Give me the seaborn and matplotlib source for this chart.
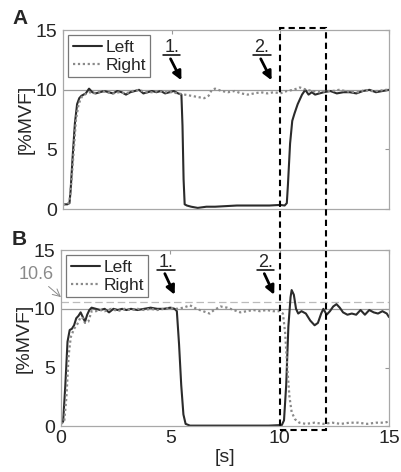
import matplotlib
matplotlib.use("Agg")
import matplotlib.pyplot as plt
import seaborn as sns
from matplotlib.patches import Rectangle

sns.set_style("white")
plt.rcParams["font.family"] = ["Liberation Sans", "DejaVu Sans"]

# (time [s], %MVF)
left_a = [(0, 0.4), (0.2, 0.4), (0.3, 0.5), (0.35, 1.5), (0.45, 4.5), (0.55, 7.2), (0.65, 8.8),
          (0.75, 9.3), (0.85, 9.5), (0.95, 9.6), (1.05, 9.7), (1.2, 10.1), (1.35, 9.8), (1.5, 9.7),
          (1.7, 9.8), (1.9, 9.9), (2.1, 9.8), (2.3, 9.7), (2.5, 9.9), (2.7, 9.8), (2.9, 9.6),
          (3.1, 9.8), (3.3, 9.9), (3.5, 10.0), (3.7, 9.7), (3.9, 9.8), (4.1, 9.9), (4.3, 9.8),
          (4.5, 9.9), (4.7, 9.7), (4.9, 9.8), (5.1, 9.9), (5.3, 9.7), (5.45, 9.6), (5.5, 7.0),
          (5.55, 2.5), (5.6, 0.4), (5.7, 0.3), (5.9, 0.2), (6.2, 0.1), (6.6, 0.2), (7.0, 0.2),
          (7.5, 0.25), (8.0, 0.3), (8.5, 0.3), (9.0, 0.3), (9.5, 0.3), (10.0, 0.35), (10.2, 0.3),
          (10.3, 0.5), (10.35, 2.0), (10.45, 5.5), (10.55, 7.4), (10.65, 8.0), (10.8, 8.8),
          (11.0, 9.6), (11.15, 10.0), (11.3, 9.6), (11.45, 9.8), (11.6, 9.6), (11.8, 9.7),
          (12.0, 9.8), (12.3, 9.9), (12.6, 9.7), (12.9, 9.8), (13.2, 9.8), (13.5, 9.7), (13.8, 9.9),
          (14.1, 10.0), (14.4, 9.8), (14.7, 9.9), (15.0, 10.0)]
right_a = [(0, 0.4), (0.2, 0.4), (0.3, 0.6), (0.4, 2.5), (0.5, 5.0), (0.6, 7.5), (0.7, 8.6), (0.8, 9.2),
           (0.9, 9.5), (1.0, 9.6), (1.2, 9.8), (1.4, 9.7), (1.6, 9.8), (1.8, 9.9), (2.0, 9.8), (2.3, 9.7),
           (2.6, 9.8), (2.9, 9.7), (3.2, 9.9), (3.5, 10.0), (3.8, 9.8), (4.1, 9.8), (4.4, 9.9), (4.7, 9.8),
           (5.0, 9.8), (5.3, 9.7), (5.6, 9.6), (5.9, 9.5), (6.2, 9.4), (6.5, 9.3), (6.7, 9.5), (6.85, 10.0),
           (7.0, 10.1), (7.3, 9.9), (7.6, 9.8), (7.9, 9.9), (8.2, 9.7), (8.5, 9.6), (8.8, 9.7), (9.1, 9.8),
           (9.4, 9.7), (9.7, 9.8), (10.0, 9.7), (10.3, 9.9), (10.6, 10.0), (10.9, 10.2), (11.2, 10.0),
           (11.5, 9.9), (11.8, 9.8), (12.1, 9.9), (12.4, 9.9), (12.7, 10.0), (13.0, 9.9), (13.3, 9.8),
           (13.6, 9.8), (13.9, 10.0), (14.2, 9.9), (14.5, 9.9), (14.8, 10.0), (15.0, 10.0)]
left_b = [(0, 0.2), (0.1, 0.4), (0.2, 3.5), (0.3, 7.2), (0.4, 8.2), (0.5, 8.3), (0.6, 8.6), (0.7, 9.2),
          (0.8, 9.4), (0.9, 9.7), (1.0, 9.3), (1.1, 8.9), (1.2, 9.5), (1.3, 9.9), (1.4, 10.1), (1.6, 10.0),
          (1.8, 9.9), (2.0, 10.0), (2.2, 9.7), (2.4, 10.0), (2.6, 9.9), (2.8, 10.0), (3.0, 9.9), (3.2, 10.0),
          (3.5, 9.9), (3.8, 10.0), (4.1, 10.1), (4.4, 10.0), (4.7, 10.0), (5.0, 10.1), (5.2, 10.0),
          (5.3, 9.8), (5.4, 7.0), (5.5, 3.5), (5.6, 1.0), (5.7, 0.2), (5.9, 0.05), (6.5, 0.05),
          (7.5, 0.05), (8.5, 0.05), (9.5, 0.05), (10.1, 0.1), (10.2, 0.5), (10.3, 3.5), (10.4, 8.5),
          (10.5, 11.0), (10.55, 11.6), (10.65, 11.2), (10.75, 10.0), (10.85, 9.6), (11.0, 9.8),
          (11.2, 9.6), (11.4, 9.0), (11.6, 8.6), (11.75, 8.8), (11.9, 9.6), (12.0, 10.0), (12.15, 9.5),
          (12.3, 9.8), (12.45, 10.2), (12.6, 10.4), (12.75, 10.1), (12.9, 9.7), (13.1, 9.5), (13.3, 9.6),
          (13.5, 9.5), (13.7, 9.9), (13.9, 9.5), (14.1, 9.9), (14.3, 9.7), (14.5, 9.6), (14.7, 9.8),
          (14.9, 9.6), (15.0, 9.3)]
right_b = [(0, 0.2), (0.15, 0.4), (0.25, 2.5), (0.35, 6.0), (0.45, 7.6), (0.6, 8.3), (0.75, 8.7), (0.9, 9.3),
           (1.0, 9.2), (1.1, 8.8), (1.25, 8.9), (1.4, 9.8), (1.6, 9.8), (1.8, 9.9), (2.0, 9.8), (2.3, 10.0),
           (2.6, 9.8), (2.9, 10.0), (3.2, 9.9), (3.5, 10.0), (3.8, 9.9), (4.1, 10.0), (4.4, 9.9), (4.7, 10.0),
           (5.0, 10.1), (5.3, 10.0), (5.6, 10.1), (5.9, 10.3), (6.2, 10.0), (6.5, 9.8), (6.8, 9.6),
           (7.0, 9.9), (7.3, 10.2), (7.6, 10.1), (7.9, 9.9), (8.2, 9.7), (8.5, 9.8), (8.8, 9.9), (9.1, 9.8),
           (9.4, 9.9), (9.7, 9.8), (10.0, 9.8), (10.15, 9.6), (10.25, 8.0), (10.35, 5.0), (10.45, 2.5),
           (10.55, 1.2), (10.7, 0.6), (10.9, 0.3), (11.2, 0.2), (11.6, 0.3), (12.0, 0.2), (12.4, 0.3),
           (12.8, 0.2), (13.2, 0.3), (13.6, 0.3), (14.0, 0.2), (14.4, 0.3), (14.8, 0.3), (15.0, 0.4)]

target = 10
limit_b = 10.6
yticks = [0, 5, 10, 15]
xticks = [0, 5, 10, 15]
window = (10.0, 12.1)

fig = plt.figure(figsize=(4.01, 4.72), dpi=100)
ax_a = fig.add_axes([0.157, 0.557, 0.813, 0.379])
ax_b = fig.add_axes([0.152, 0.097, 0.818, 0.373])

def draw_panel(ax, left, right):
    sns.lineplot(x=[p[0] for p in left], y=[p[1] for p in left], ax=ax, color="#2b2b2b",
                 linewidth=1.5, label="Left", sort=False, estimator=None)
    sns.lineplot(x=[p[0] for p in right], y=[p[1] for p in right], ax=ax, color="#8a8a8a",
                 linewidth=1.6, linestyle=(0, (1, 1.2)), label="Right", sort=False, estimator=None)
    ax.axhline(target, color="#9a9a9a", linewidth=0.9, zorder=0)
    ax.set_xlim(0, 15)
    ax.set_ylim(0, 15)
    ax.set_yticks(yticks)
    ax.set_xticks(xticks)
    ax.tick_params(direction="in", length=3, color="#999999", labelsize=14, top=True, right=True, pad=4)
    ax.tick_params(axis="x", pad=3)
    for s in ax.spines.values():
        s.set_color("#a8a8a8")
        s.set_linewidth(0.9)
    ax.set_ylabel("[%MVF]", fontsize=14, labelpad=1)
    leg = ax.legend(loc="upper left", fontsize=12.5, handlelength=1.7, handletextpad=0.2,
                    borderpad=0.25, labelspacing=0.15, fancybox=False, framealpha=1,
                    borderaxespad=0.3)
    leg.get_frame().set_edgecolor("#777777")
    leg.get_frame().set_linewidth(0.9)

def mark(ax, label, tip, tail):
    ax.annotate("", xy=tip, xytext=tail,
                arrowprops=dict(arrowstyle="-|>", color="black", lw=2, mutation_scale=13,
                                shrinkA=0, shrinkB=0))
    tx, ty = tail[0] + 0.05, tail[1] + 0.6
    ax.text(tx, ty, label, ha="center", va="baseline", fontsize=13)
    ax.plot([tx - 0.4, tx + 0.4], [ty - 0.3, ty - 0.3], color="black", linewidth=1.1)

draw_panel(ax_a, left_a, right_a)
ax_a.set_xticklabels([])
mark(ax_a, "1.", (5.45, 10.8), (4.95, 12.6))
mark(ax_a, "2.", (9.6, 10.8), (9.1, 12.6))

draw_panel(ax_b, left_b, right_b)
ax_b.axhline(limit_b, color="#bbbbbb", linewidth=0.9, linestyle=(0, (6, 3)), zorder=0)
ax_b.set_xlabel("[s]", fontsize=14, labelpad=1)
mark(ax_b, "1.", (5.2, 11.2), (4.75, 13.0))
mark(ax_b, "2.", (9.75, 11.2), (9.3, 13.0))
ax_b.annotate("10.6", xy=(0, limit_b + 0.4), xytext=(-18, 10), textcoords="offset points",
              fontsize=13, color="#8a8a8a", ha="center", va="bottom", annotation_clip=False,
              arrowprops=dict(arrowstyle="->", color="#8a8a8a", lw=0.7, shrinkA=0, shrinkB=0,
                              relpos=(0.75, 0.0)))

fig.text(0.03, 0.96, "A", fontsize=15, fontweight="bold", va="center")
fig.text(0.03, 0.493, "B", fontsize=15, fontweight="bold", va="center")

# dashed window spanning both panels
inv = fig.transFigure.inverted()
x0, y_top = inv.transform(ax_a.transData.transform((window[0], 15.2)))
x1, y_bot = inv.transform(ax_b.transData.transform((window[1], -0.35)))
fig.patches.append(Rectangle((x0, y_bot), x1 - x0, y_top - y_bot, transform=fig.transFigure,
                             fill=False, edgecolor="black", linewidth=1.5, linestyle=(0, (3, 2))))

fig.savefig("out.png", dpi=100)
